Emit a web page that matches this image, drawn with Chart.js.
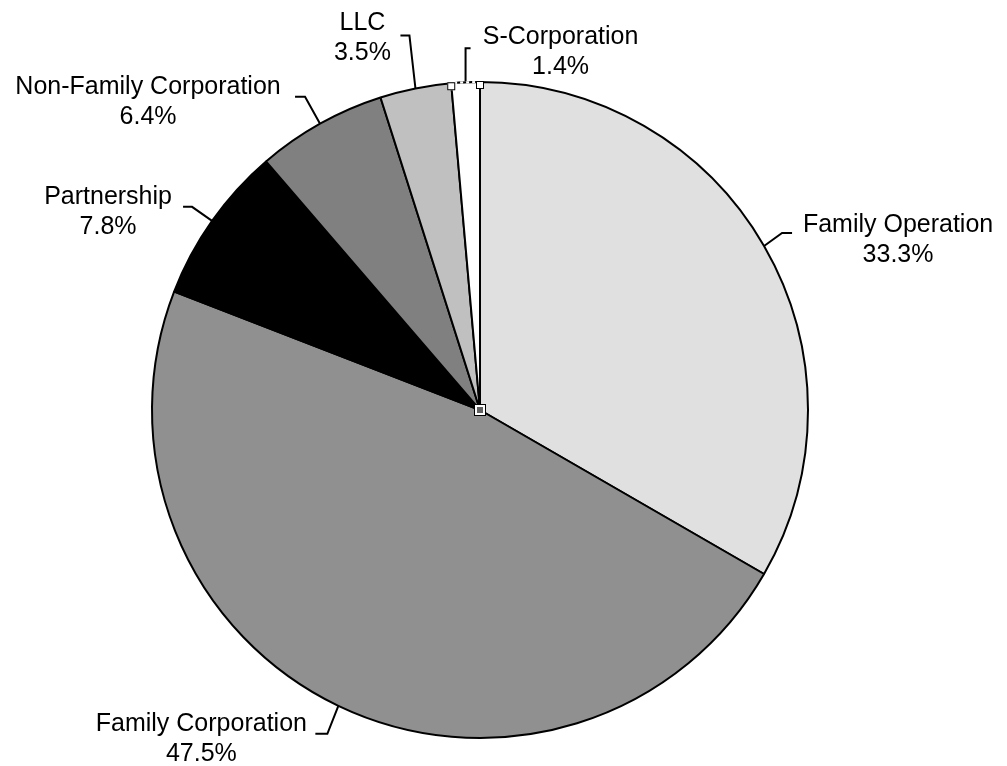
<!DOCTYPE html>
<html>
<head>
<meta charset="utf-8">
<title>Farm Business Organization</title>
<script src="https://cdn.jsdelivr.net/npm/chart.js@4.4.1/dist/chart.umd.min.js"></script>
<style>
  html, body { margin: 0; padding: 0; background: #fff; }
  #wrap { width: 1007px; height: 766px; }
</style>
</head>
<body>
<div id="wrap"><canvas id="pie" width="1007" height="766"></canvas></div>
<script>
// ── Data ──
var categories = ['Family Operation', 'Family Corporation', 'Partnership',
                  'Non-Family Corporation', 'LLC', 'S-Corporation'];
var shares = [33.3, 47.5, 7.8, 6.4, 3.5, 1.4];

// ── Styling ──
var sliceColors = ['#e0e0e0', '#909090', '#000000', '#808080', '#c0c0c0', '#ffffff'];
var FONT = '25px "Liberation Sans", Arial, sans-serif';

// leader line bends, relative to the point on the rim: [knee, end]
var leaders = [
  [[18, -13], [28, -13]],
  [[-11, 28], [-23, 28]],
  [[-20, -14], [-29, -14]],
  [[-15, -27], [-25, -27]],
  [[-6, -53], [-15, -53]],
  [[0, -34], [5, -34]]
];
// text centre x / first baseline, relative to the leader end
var textOffsets = [[106, -1], [-114, -3], [-75, -3], [-147, -3], [-38, -5], [90, -4]];
var LINE_GAP = 30;

// ── Labels, leader lines and the selection handles on the last slice ──
var pieLabels = {
  id: 'pieLabels',
  afterDatasetsDraw: function(chart) {
    var ctx = chart.ctx;
    var arcs = chart.getDatasetMeta(0).data;
    ctx.save();

    arcs.forEach(function(arc, i) {
      var p = arc.getProps(['x', 'y', 'startAngle', 'endAngle', 'outerRadius'], true);
      var mid = (p.startAngle + p.endAngle) / 2;
      var ex = p.x + Math.cos(mid) * p.outerRadius;
      var ey = p.y + Math.sin(mid) * p.outerRadius;
      var knee = leaders[i][0], end = leaders[i][1];

      ctx.strokeStyle = '#000';
      ctx.lineWidth = 2;
      ctx.setLineDash([]);
      ctx.beginPath();
      ctx.moveTo(ex, ey);
      ctx.lineTo(ex + knee[0], ey + knee[1]);
      ctx.lineTo(ex + end[0], ey + end[1]);
      ctx.stroke();

      var tx = ex + end[0] + textOffsets[i][0];
      var ty = ey + end[1] + textOffsets[i][1];
      ctx.fillStyle = '#000';
      ctx.font = FONT;
      ctx.textAlign = 'center';
      ctx.textBaseline = 'alphabetic';
      ctx.fillText(categories[i], tx, ty);
      ctx.fillText(shares[i].toFixed(1) + '%', tx, ty + LINE_GAP);
    });

    // selected slice: dashed rim plus small square handles
    var sel = arcs[arcs.length - 1].getProps(['x', 'y', 'startAngle', 'endAngle', 'outerRadius'], true);
    ctx.lineWidth = 2;
    ctx.strokeStyle = '#fff';
    ctx.beginPath();
    ctx.arc(sel.x, sel.y, sel.outerRadius, sel.startAngle, sel.endAngle);
    ctx.stroke();
    ctx.strokeStyle = '#000';
    ctx.setLineDash([3, 3]);
    ctx.beginPath();
    ctx.arc(sel.x, sel.y, sel.outerRadius, sel.startAngle, sel.endAngle);
    ctx.stroke();
    ctx.setLineDash([]);

    function handle(x, y) {
      ctx.fillStyle = '#fff';
      ctx.fillRect(x - 4, y - 4, 8, 8);
      ctx.strokeStyle = '#000';
      ctx.lineWidth = 1;
      ctx.strokeRect(x - 3.5, y - 3.5, 7, 7);
    }
    [sel.startAngle, sel.endAngle].forEach(function(a) {
      handle(sel.x + Math.cos(a) * (sel.outerRadius - 1), sel.y + Math.sin(a) * (sel.outerRadius - 1) + 2);
    });
    // centre handle: white frame around a dark core
    ctx.fillStyle = '#fff';
    ctx.fillRect(sel.x - 5, sel.y - 5, 10, 10);
    ctx.fillStyle = '#606060';
    ctx.fillRect(sel.x - 3, sel.y - 3, 6, 6);
    ctx.strokeStyle = '#000';
    ctx.lineWidth = 1;
    ctx.strokeRect(sel.x - 5.5, sel.y - 5.5, 11, 11);

    ctx.restore();
  }
};

new Chart(document.getElementById('pie'), {
  type: 'pie',
  data: {
    labels: categories,
    datasets: [{
      data: shares,
      backgroundColor: sliceColors,
      borderColor: '#000',
      borderWidth: 2
    }]
  },
  options: {
    responsive: false,
    animation: false,
    radius: 328,
    layout: { padding: { left: 152, right: 199, top: 82, bottom: 28 } },
    plugins: {
      legend: { display: false },
      tooltip: { enabled: false }
    }
  },
  plugins: [pieLabels]
});
</script>
</body>
</html>
